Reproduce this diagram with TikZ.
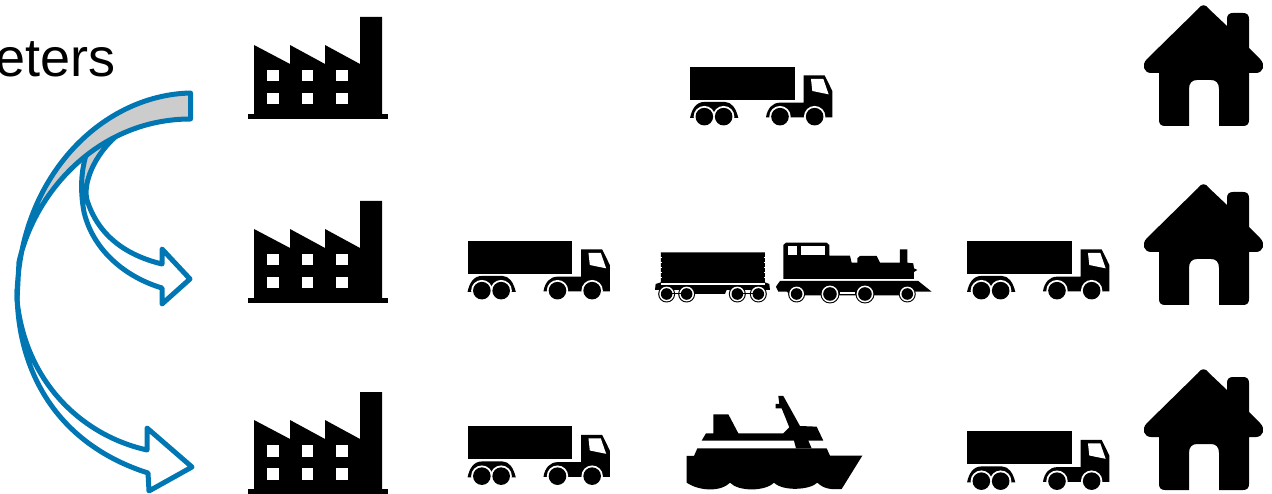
\documentclass[tikz,border=0pt]{standalone}
\usepackage{fontspec}
\setmainfont{Liberation Sans}
\definecolor{arrowblue}{HTML}{0077B3}
\definecolor{bandgray}{HTML}{CCCCCC}
\tikzset{
  ink/.style={fill=black,draw=none},
  hole/.style={fill=white,draw=none},
  bandline/.style={draw=arrowblue,line width=5pt,line join=round,line cap=round},
  factory/.pic={
    \fill[ink] (248,114) rectangle (388,119);
    \fill[ink] (254,116) -- (254,45) -- (290,64) -- (290,45) -- (325,64) -- (325,45) -- (360,64) -- (360,17) -- (382,17) -- (382,116) -- cycle;
    \foreach \wx in {267,301.5,336}{
      \foreach \wy in {70,93}{
        \fill[hole] (\wx,\wy) rectangle (\wx+11.5,\wy+11.5);
      }
    }
  },
  house/.pic={
    \fill[ink]
      (1198,9) .. controls (1201,4) and (1206,4) .. (1209,9) -- (1227,26) -- (1227,19) .. controls (1227,15) and (1229,13) .. (1233,13)
      -- (1243,13) .. controls (1247,13) and (1249,15) .. (1249,19) -- (1249,48) -- (1260,59)
      .. controls (1266,65) and (1263,73) .. (1256,73) -- (1249,73) -- (1249,120) .. controls (1249,124) and (1247,126) .. (1243,126)
      -- (1219,126) -- (1219,89) .. controls (1219,83) and (1216,80) .. (1211,80) -- (1197,80) .. controls (1192,80) and (1189,83) .. (1189,89)
      -- (1189,126) -- (1165,126) .. controls (1161,126) and (1159,124) .. (1159,120) -- (1159,73) -- (1151,73)
      .. controls (1144,73) and (1141,65) .. (1147,59) -- cycle;
  },
  truck/.pic={
    \begin{scope}[shift={(680,55)},x=.3333pt,y=-.3333pt]
      \fill[ink] (31,35) rectangle (344,135);
      \fill[ink] (371,61) -- (434,61) -- (457,108) -- (457,187) -- (258,187) .. controls (262,160) and (278,143) .. (300,143) -- (371,143) -- cycle;
      \fill[hole] (393,72) -- (430,72) -- (446,118) -- (397,108) -- cycle;
      \fill[ink] (30,189) .. controls (36,160) and (50,141) .. (72,141) -- (135,141) .. controls (155,141) and (168,160) .. (175,189) -- cycle;
      \foreach \wx in {73,131,300,404}{
        \fill[hole] (\wx,185) circle[radius=10.7pt];
      }
      \foreach \wx in {73,131,300,404}{
        \fill[ink] (\wx,185) circle[radius=8.8pt];
      }
    \end{scope}
  },
}
\begin{document}
\begin{tikzpicture}[x=1pt,y=-1pt]
\useasboundingbox (0,0) rectangle (1272,494);
\node[anchor=base east,inner sep=0pt,font=\fontsize{54pt}{60pt}\selectfont] (label) at (116,77) {eters};

% small arrow
\fill[white] (87,157) .. controls (81,170) and (80,190) .. (84,212) .. controls (93,250) and (125,277) .. (162,288) -- (162,304) -- (190,279) -- (162,249) -- (162,264) .. controls (125,255) and (98,235) .. (87,200) -- cycle;
\fill[bandgray] (87,152) .. controls (81,170) and (80,185) .. (82,200) -- (87,200) .. controls (83,185) and (92,155) .. (122,131) -- cycle;
\path[bandline] (87,152) .. controls (81,170) and (80,190) .. (84,212) .. controls (93,250) and (125,277) .. (162,288) -- (162,304) -- (190,279) -- (162,249) -- (162,264) .. controls (125,255) and (98,235) .. (87,200) .. controls (83,185) and (92,155) .. (122,131);
% big arrow
\path[fill=white,bandline] (17,290) .. controls (17,375) and (60,445) .. (148,473) -- (149,491) -- (192,467) -- (147,428) -- (147,450) .. controls (80,435) and (25,380) .. (17,300);
\path[fill=bandgray,bandline] (190.5,93) .. controls (100,95) and (17,180) .. (17,300) -- (19,262) .. controls (35,190) and (100,119) .. (190.5,119) -- cycle;

% factories
\pic at (0,0) {factory};
\pic at (0,184) {factory};
\pic at (0,375) {factory};

% houses
\pic at (0,0) {house};
\pic at (0,179) {house};
\pic at (0,364) {house};

% trucks
\pic at (0,0) {truck};
\pic at (-222.5,174) {truck};
\pic at (277,174) {truck};
\pic at (-222.5,359.5) {truck};
\pic at (277,364.5) {truck};

% train
\begin{scope}[shift={(450,220)},x=.3333pt,y=-.3333pt]
  % wagon
  \fill[ink] (633,97) -- (945,97) -- (945,187) -- (958,192) -- (960,210) -- (830,210) -- (825,222) -- (735,222) -- (730,210) -- (615,210) -- (617,192) -- (633,187) -- cycle;
  \fill[hole] (633,190) rectangle (945,195);
  \foreach \ny in {110,125,140,155,170}{
    \fill[hole] (629,\ny) rectangle (635,\ny+2);
    \fill[hole] (943,\ny) rectangle (949,\ny+2);
  }
  \foreach \wx in {650,710,862,925}{
    \fill[ink] (\wx,222) circle[radius=8.5pt];
    \fill[hole] (\wx,222) circle[radius=7.4pt];
    \fill[ink] (\wx,222) circle[radius=5.8pt];
  }
  \draw[black,line width=1pt] (650,222) -- (710,222) (862,222) -- (925,222);
  % locomotive
  \fill[ink] (1000,177) -- (1000,75) -- (1008,68) -- (1130,68) -- (1138,75) -- (1138,107) -- (1200,107) -- (1205,128) -- (1222,128) -- (1222,115) -- (1230,108) -- (1280,108) -- (1290,128) -- (1350,128) -- (1350,88) -- (1372,88) -- (1372,128) -- (1390,130) -- (1392,145) -- (1402,150) -- (1392,156) -- (1392,177) -- cycle;
  \fill[hole] (1015,78) rectangle (1040,105);
  \fill[hole] (1052,78) rectangle (1125,105);
  \fill[ink] (990,183) -- (1405,183) -- (1445,215) -- (1385,215) -- (1385,226) -- (1025,226) -- (1010,215) -- (985,215) -- (978,200) -- cycle;
  \foreach \wx/\wr in {1040/8.5,1140/9.5,1245/9.5,1372/8.5}{
    \fill[ink] (\wx,222) circle[radius=\wr pt];
    \fill[hole] (\wx,222) circle[radius=\wr pt-1.1pt];
    \fill[ink] (\wx,222) circle[radius=\wr pt-2.7pt];
  }
  \fill[hole] (1170,217) rectangle (1215,221);
\end{scope}

% ship
\begin{scope}[shift={(670,390)},x=.3333pt,y=-.3333pt]
  \fill[ink] (95,152) -- (108,130) -- (130,130) -- (130,73) -- (175,73) -- (205,130) -- (340,130) -- (358,112) -- (335,55) -- (317,55) -- (317,42) -- (328,42) -- (325,18) -- (340,18) -- (390,108) -- (440,110) -- (460,152) -- (415,152) -- (425,175) -- (378,175) -- (372,152) -- cycle;
  \fill[ink] (50,198) -- (72,198) -- (82,175) -- (470,175) -- (480,197) -- (577,197) -- (515,297) .. controls (480,300) and (460,295) .. (442,278) .. controls (420,300) and (340,305) .. (312,278) .. controls (285,305) and (205,305) .. (180,278) .. controls (155,305) and (90,305) .. (50,278) -- cycle;
\end{scope}
\end{tikzpicture}
\end{document}
